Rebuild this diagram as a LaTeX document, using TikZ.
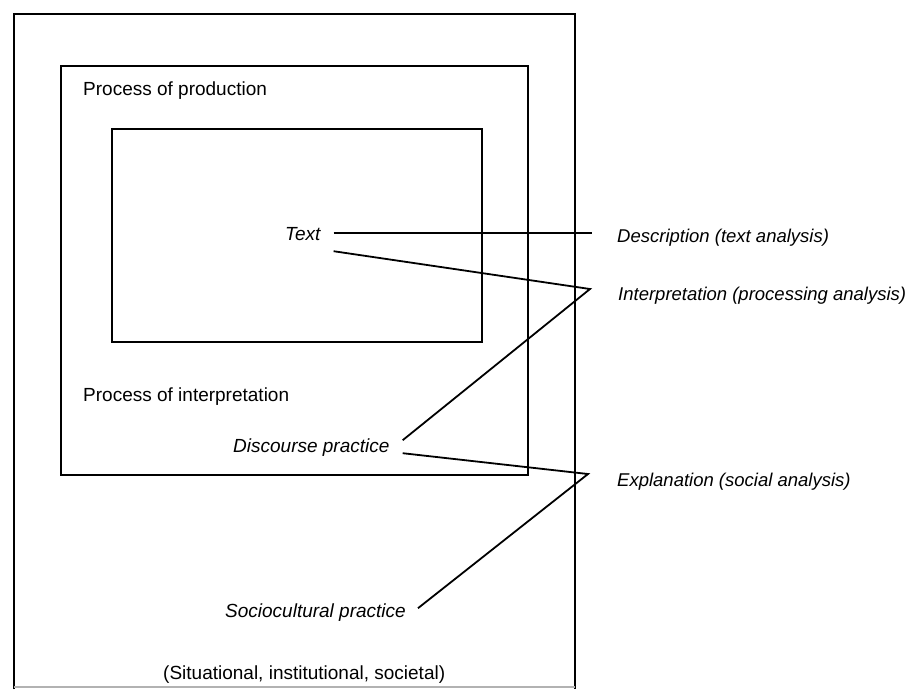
\documentclass[tikz,border=0pt]{standalone}
\usepackage{fontspec}
\setmainfont{Liberation Sans}
\begin{document}
\begin{tikzpicture}[x=1pt,y=-1pt,
  box/.style={draw=black,line width=2.8pt},
  conn/.style={draw=black,line width=1.8pt,line join=miter},
  lbl/.style={inner sep=0pt,anchor=base west,text height=13.6pt,text depth=4pt,font=\fontsize{19}{23}\selectfont},
  ilbl/.style={lbl,font=\fontsize{19}{23}\selectfont\itshape},
  rlbl/.style={lbl,font=\fontsize{18.5}{22}\selectfont\itshape}]
\useasboundingbox (0,0) rectangle (909,689);
% boxes
\draw[box] (14,689) -- (14,14) -- (575,14) -- (575,689);
\draw[draw=black!30,line width=1.5pt] (14,687) -- (575,687);
\draw[box] (61,66) rectangle (528,475);
\draw[box] (112,129) rectangle (482,342);
% labels
\node[lbl] (prod) at (83,95) {Process of production};
\node[ilbl] (txt) at (285,240) {Text};
\node[lbl] (interp) at (83,401) {Process of interpretation};
\node[ilbl] (dp) at (233,452) {Discourse practice};
\node[ilbl] (sp) at (225,617) {Sociocultural practice};
\node[lbl] (sit) at (163,679) {(Situational, institutional, societal)};
\node[rlbl] (desc) at (617,242) {Description (text analysis)};
\node[rlbl] (proc) at (618,300) {Interpretation (processing analysis)};
\node[rlbl] (expl) at (617,486) {Explanation (social analysis)};
% vertices
\coordinate (v1) at (590,289);
\coordinate (v2) at (588,474);
% connectors
\draw[conn] ([shift={(13,-2)}]txt.east) -- ([shift={(-25,-4)}]desc.west);
\draw[conn] ([shift={(13,16)}]txt.east) -- (v1) -- ([shift={(13,-7)}]dp.east);
\draw[conn] ([shift={(13,6)}]dp.east) -- (v2) -- ([shift={(12,-4)}]sp.east);
\end{tikzpicture}
\end{document}
